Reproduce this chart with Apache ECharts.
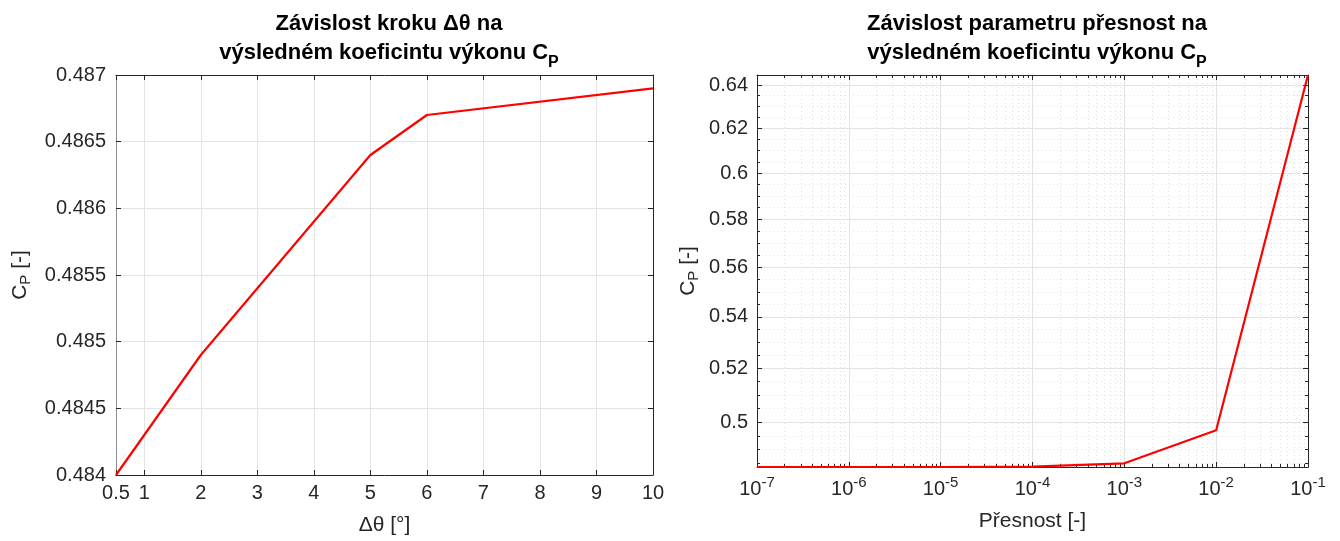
<!DOCTYPE html>
<html>
<head>
<meta charset="utf-8">
<script src="https://cdn.jsdelivr.net/npm/echarts@6.0.0/dist/echarts.min.js"></script>
<style>
  html, body { margin: 0; padding: 0; background: #fff; }
  #chart { width: 1340px; height: 541px; }
</style>
</head>
<body>
<div id="chart"></div>
<script>
// left plot: step size vs Cp
var step_x = [0.5, 2, 5, 6, 10];
var step_cp = [0.4840, 0.4849, 0.4864, 0.4867, 0.4869];
var step_ticks = [0.5, 1, 2, 3, 4, 5, 6, 7, 8, 9, 10];

// right plot: tolerance vs Cp (log-log)
var tol_x = [1e-7, 1e-6, 1e-5, 1e-4, 1e-3, 1e-2, 1e-1];
var tol_cp = [0.4838, 0.4838, 0.4838, 0.4839, 0.4851, 0.4970, 0.6447];
var tol_ticks = [1e-7, 1e-6, 1e-5, 1e-4, 1e-3, 1e-2, 1e-1];
var tol_cp_ticks = [0.5, 0.52, 0.54, 0.56, 0.58, 0.6, 0.62, 0.64];

var font = "'Liberation Sans', Arial, sans-serif";
var ink = '#262626';

// minor ticks for the log axes
var tol_minor = [];
for (var e = -7; e < -1; e++) {
  for (var m = 2; m <= 9; m++) tol_minor.push(+(m * Math.pow(10, e)).toPrecision(3));
}
var tol_cp_minor = [];
for (var k = 97; k <= 129; k++) {
  var v = +(k * 0.005).toFixed(3);
  if (k % 4 != 0) tol_cp_minor.push(v);
}

function logLabel(v) {
  return '10{sup|' + Math.round(Math.log10(v)) + '}';
}

function frameAxis(opt) {
  // mirrored axis for the box around a plot, no labels
  var base = {
    axisLine: { show: true, onZero: false, lineStyle: { color: ink, width: 1 } },
    axisTick: { show: true, inside: true, length: 5, lineStyle: { color: ink } },
    axisLabel: { show: false },
    splitLine: { show: false }
  };
  for (var key in opt) base[key] = opt[key];
  return base;
}

var titleStyle = {
  fontFamily: font, fontSize: 22, fontWeight: 'bold', color: '#000', lineHeight: 29,
  rich: { sub: { fontFamily: font, fontSize: 16, fontWeight: 'bold', color: '#000', lineHeight: 9, padding: [20, 0, 0, 0] } }
};
var nameStyle = {
  fontFamily: font, fontSize: 21, color: ink,
  rich: { sub: { fontFamily: font, fontSize: 15, color: ink, padding: [10, 0, 0, 0] } }
};

var chart = echarts.init(document.getElementById('chart'));

var option = {
  animation: false,
  textStyle: { fontFamily: font },
  title: [
    {
      text: 'Závislost kroku Δθ na\nvýsledném koeficintu výkonu C{sub|P}',
      left: 384, top: 4, textAlign: 'center', textStyle: titleStyle
    },
    {
      text: 'Závislost parametru přesnost na\nvýsledném koeficintu výkonu C{sub|P}',
      left: 1032, top: 4, textAlign: 'center', textStyle: titleStyle
    }
  ],
  grid: [
    { left: 116, right: 687, top: 75, bottom: 65 },
    { left: 757, right: 32, top: 75, bottom: 74 }
  ],
  xAxis: [
    {
      type: 'value', gridIndex: 0, min: 0.5, max: 10, position: 'bottom',
      name: 'Δθ [°]', nameLocation: 'middle', nameGap: 40, nameTextStyle: nameStyle,
      axisLine: { show: true, onZero: false, lineStyle: { color: ink } },
      axisTick: { show: true, inside: true, length: 5, customValues: step_ticks, lineStyle: { color: ink } },
      axisLabel: { customValues: step_ticks, margin: 8, fontFamily: font, fontSize: 20, color: ink },
      splitLine: { show: true, lineStyle: { color: '#e3e3e3' } }
    },
    frameAxis({ type: 'value', gridIndex: 0, min: 0.5, max: 10, position: 'top',
      axisTick: { show: true, inside: true, length: 5, customValues: step_ticks, lineStyle: { color: ink } } }),
    {
      type: 'log', logBase: 10, gridIndex: 1, min: 1e-7, max: 0.1, position: 'bottom',
      name: 'Přesnost [-]', nameLocation: 'middle', nameGap: 44, nameTextStyle: nameStyle,
      axisLine: { show: true, onZero: false, lineStyle: { color: ink } },
      axisTick: { show: true, inside: true, length: 5, customValues: tol_ticks, lineStyle: { color: ink } },
      axisLabel: {
        customValues: tol_ticks, margin: 8, formatter: logLabel,
        fontFamily: font, fontSize: 20, color: ink,
        rich: { sup: { fontFamily: font, fontSize: 15, color: ink, padding: [0, 0, 14, 0] } }
      },
      splitLine: { show: true, lineStyle: { color: '#e3e3e3' } }
    },
    frameAxis({ type: 'log', logBase: 10, gridIndex: 1, min: 1e-7, max: 0.1, position: 'bottom',
      axisLine: { show: false },
      axisTick: { show: true, inside: true, length: 3, customValues: tol_minor, lineStyle: { color: ink } },
      splitLine: { show: true, lineStyle: { color: '#e2e2e2', type: [1, 3] } } }),
    frameAxis({ type: 'log', logBase: 10, gridIndex: 1, min: 1e-7, max: 0.1, position: 'top',
      axisTick: { show: true, inside: true, length: 5, customValues: tol_ticks, lineStyle: { color: ink } } }),
    frameAxis({ type: 'log', logBase: 10, gridIndex: 1, min: 1e-7, max: 0.1, position: 'top',
      axisLine: { show: false },
      axisTick: { show: true, inside: true, length: 3, customValues: tol_minor, lineStyle: { color: ink } } })
  ],
  yAxis: [
    {
      type: 'value', gridIndex: 0, min: 0.484, max: 0.487, interval: 0.0005, position: 'left',
      name: 'C{sub|P} [-]', nameLocation: 'middle', nameGap: 83, nameRotate: 90, nameTextStyle: nameStyle,
      axisLine: { show: true, onZero: false, lineStyle: { color: '#8f8f8f' } },
      axisTick: { show: true, inside: true, length: 5, lineStyle: { color: ink } },
      axisLabel: { margin: 10, fontFamily: font, fontSize: 20, color: ink },
      splitLine: { show: true, lineStyle: { color: '#e3e3e3' } }
    },
    frameAxis({ type: 'value', gridIndex: 0, min: 0.484, max: 0.487, interval: 0.0005, position: 'right' }),
    {
      type: 'log', logBase: 10, gridIndex: 1, min: 0.4838, max: 0.6447, position: 'left',
      name: 'C{sub|P} [-]', nameLocation: 'middle', nameGap: 56, nameRotate: 90, nameTextStyle: nameStyle,
      axisLine: { show: true, onZero: false, lineStyle: { color: ink } },
      axisTick: { show: true, inside: true, length: 5, customValues: tol_cp_ticks, lineStyle: { color: ink } },
      axisLabel: { customValues: tol_cp_ticks, margin: 9, fontFamily: font, fontSize: 20, color: ink },
      splitLine: { show: true, lineStyle: { color: '#e3e3e3' } }
    },
    frameAxis({ type: 'log', logBase: 10, gridIndex: 1, min: 0.4838, max: 0.6447, position: 'left',
      axisLine: { show: false },
      axisTick: { show: true, inside: true, length: 3, customValues: tol_cp_minor, lineStyle: { color: ink } },
      splitLine: { show: true, lineStyle: { color: '#e2e2e2', type: [1, 3] } } }),
    frameAxis({ type: 'log', logBase: 10, gridIndex: 1, min: 0.4838, max: 0.6447, position: 'right',
      axisTick: { show: true, inside: true, length: 5, customValues: tol_cp_ticks, lineStyle: { color: ink } } }),
    frameAxis({ type: 'log', logBase: 10, gridIndex: 1, min: 0.4838, max: 0.6447, position: 'right',
      axisLine: { show: false },
      axisTick: { show: true, inside: true, length: 3, customValues: tol_cp_minor, lineStyle: { color: ink } } })
  ],
  series: [
    {
      type: 'line', xAxisIndex: 0, yAxisIndex: 0,
      data: step_x.map(function (x, i) { return [x, step_cp[i]]; }),
      showSymbol: false, lineStyle: { color: '#ff0000', width: 2.2 }, itemStyle: { color: '#ff0000' }
    },
    {
      type: 'line', xAxisIndex: 2, yAxisIndex: 2,
      data: tol_x.map(function (x, i) { return [x, tol_cp[i]]; }),
      showSymbol: false, clip: false, lineStyle: { color: '#ff0000', width: 2.2 }, itemStyle: { color: '#ff0000' }
    }
  ]
};

chart.setOption(option);
</script>
</body>
</html>
